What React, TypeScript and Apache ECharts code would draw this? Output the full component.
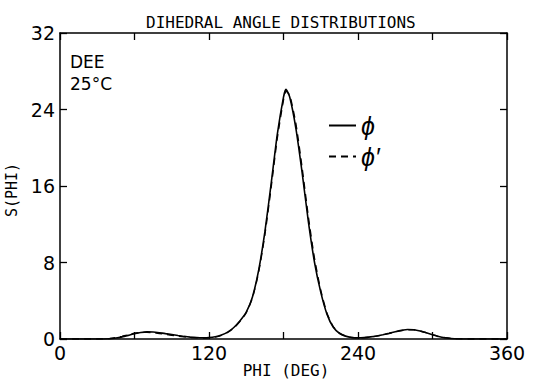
import React, { useEffect, useRef } from "react";
import * as echarts from "echarts";

// Dihedral angle (degrees) at which S(PHI) is sampled
const angles = [
  0, 10, 20, 30, 40, 45, 50, 55, 60, 65, 70, 75, 80, 85, 90, 95, 100, 105, 110, 115,
  120, 125, 130, 135, 140, 145, 150, 155, 160, 165, 170, 175, 180, 182, 185, 190, 195,
  200, 205, 210, 215, 220, 225, 230, 235, 240, 245, 250, 255, 260, 265, 270, 275, 280,
  285, 290, 295, 300, 305, 310, 315, 320, 330, 340, 350, 360,
];

// S(PHI) for phi (solid)
const phiValues = [
  0, 0, 0, 0, 0.03, 0.1, 0.22, 0.38, 0.55, 0.68, 0.75, 0.74, 0.66, 0.56, 0.46, 0.36, 0.27, 0.2, 0.15, 0.13,
  0.15, 0.24, 0.42, 0.72, 1.2, 1.9, 2.8, 4.4, 7.2, 11.2, 16.2, 21.4, 25.3, 26.1, 25.3, 22.0, 17.4,
  12.3, 8.0, 4.9, 2.6, 1.25, 0.6, 0.3, 0.16, 0.12, 0.15, 0.22, 0.32, 0.45, 0.6, 0.76, 0.9, 0.99,
  0.97, 0.84, 0.65, 0.45, 0.26, 0.13, 0.06, 0.02, 0, 0, 0, 0,
];

// S(PHI) for phi' (dashed)
const phiPrimeValues = [
  0, 0, 0, 0, 0.05, 0.14, 0.28, 0.45, 0.6, 0.68, 0.7, 0.66, 0.58, 0.48, 0.39, 0.3, 0.22, 0.16, 0.12, 0.1,
  0.12, 0.2, 0.38, 0.68, 1.15, 1.85, 2.75, 4.3, 7.0, 10.9, 15.8, 21.0, 25.0, 25.9, 25.5, 22.5, 17.9,
  12.8, 8.4, 5.1, 2.7, 1.3, 0.62, 0.3, 0.15, 0.11, 0.13, 0.2, 0.3, 0.43, 0.58, 0.74, 0.88, 0.97,
  0.96, 0.84, 0.66, 0.46, 0.27, 0.14, 0.06, 0.02, 0, 0, 0, 0,
];

const labelledAngles = [0, 120, 240, 360];

const mono = "DejaVu Sans Mono";
const sans = "DejaVu Sans";

export default function App() {
  const ref = useRef<HTMLDivElement>(null);

  useEffect(() => {
    if (!ref.current) return;
    const chart = echarts.init(ref.current, null, { renderer: "svg" });

    const frameAxisLine = { show: true, onZero: false, lineStyle: { color: "#000", width: 1.5 } };
    const frameTick = { show: true, inside: true, length: 7, lineStyle: { color: "#000", width: 1.3 } };

    chart.setOption({
      animation: false,
      backgroundColor: "#fff",
      title: {
        text: "DIHEDRAL ANGLE DISTRIBUTIONS",
        left: 141,
        top: 9,
        textStyle: { fontFamily: mono, fontSize: 16, fontWeight: "normal", color: "#000" },
      },
      legend: {
        orient: "vertical",
        left: 328,
        top: 113,
        padding: 0,
        itemWidth: 27,
        itemHeight: 14,
        itemGap: 6,
        itemStyle: { opacity: 0 },
        textStyle: {
          fontFamily: "Liberation Sans",
          fontSize: 25,
          fontStyle: "italic",
          lineHeight: 22,
          color: "#000",
        },
        data: ["ϕ", "ϕ′"],
      },
      grid: { left: 60, right: 29, top: 33, bottom: 40, outerBoundsMode: "none", containLabel: false },
      xAxis: [
        {
          type: "value",
          min: 0,
          max: 360,
          interval: 60,
          position: "bottom",
          axisLine: frameAxisLine,
          axisTick: frameTick,
          splitLine: { show: false },
          axisLabel: {
            fontFamily: sans,
            fontSize: 19,
            color: "#000",
            margin: 4,
            formatter: (v: number) => (labelledAngles.includes(v) ? String(v) : ""),
          },
        },
        {
          type: "value",
          min: 0,
          max: 360,
          interval: 60,
          position: "top",
          axisLine: frameAxisLine,
          axisTick: frameTick,
          axisLabel: { show: false },
          splitLine: { show: false },
        },
      ],
      yAxis: [
        {
          type: "value",
          min: 0,
          max: 32,
          interval: 8,
          position: "left",
          axisLine: frameAxisLine,
          axisTick: frameTick,
          splitLine: { show: false },
          axisLabel: { fontFamily: sans, fontSize: 19, color: "#000", margin: 5 },
        },
        {
          type: "value",
          min: 0,
          max: 32,
          interval: 8,
          position: "right",
          axisLine: frameAxisLine,
          axisTick: frameTick,
          axisLabel: { show: false },
          splitLine: { show: false },
        },
      ],
      graphic: [
        {
          type: "text",
          left: 70,
          top: 51,
          style: {
            text: "DEE\n25°C",
            fontFamily: sans,
            fontSize: 17,
            lineHeight: 22,
            fill: "#000",
          },
        },
        {
          // x-axis title
          type: "text",
          x: 286,
          y: 370,
          style: {
            text: "PHI (DEG)",
            fontFamily: mono,
            fontSize: 16,
            fill: "#000",
            textAlign: "center",
            textVerticalAlign: "middle",
          },
        },
        {
          // y-axis title, reading bottom to top
          type: "text",
          x: 12,
          y: 190,
          rotation: Math.PI / 2,
          style: {
            text: "S(PHI)",
            fontFamily: mono,
            fontSize: 15,
            fill: "#000",
            textAlign: "center",
            textVerticalAlign: "middle",
          },
        },
      ],
      series: [
        {
          name: "ϕ",
          type: "line",
          showSymbol: false,
          symbol: "none",
          smooth: 0.2,
          lineStyle: { color: "#000", width: 1.6, type: "solid" },
          itemStyle: { color: "#000" },
          data: angles.map((a, i) => [a, phiValues[i]]),
        },
        {
          name: "ϕ′",
          type: "line",
          showSymbol: false,
          symbol: "none",
          smooth: 0.2,
          lineStyle: { color: "#000", width: 1.4, type: [7, 5] },
          itemStyle: { color: "#000" },
          data: angles.map((a, i) => [a, phiPrimeValues[i]]),
        },
      ],
    });

    return () => chart.dispose();
  }, []);

  return (
    <div
      ref={ref}
      style={{ position: "absolute", left: 0, top: 0, width: 536, height: 379, background: "#fff" }}
    />
  );
}
